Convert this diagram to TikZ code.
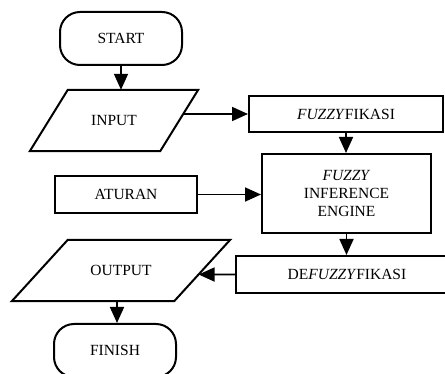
\documentclass[tikz,border=0pt]{standalone}
\usepackage{fontspec}
\setmainfont{Liberation Serif}
\usetikzlibrary{arrows.meta,calc}
\tikzset{
  txt/.style={inner sep=0pt, align=center, font=\fontsize{15.5}{18}\selectfont},
  box/.style={txt, draw, line width=2pt},
  term/.style={box, rounded corners=20pt, minimum width=122pt, minimum height=53pt},
  edge/.style={line width=2pt, line join=miter},
  arr/.style={line width=1.8pt, -{Triangle[length=16pt,width=14pt]}}
}
\begin{document}
\begin{tikzpicture}[x=1pt,y=-1pt]
\clip (0,0) rectangle (445,374);
% terminals
\node[term] (start) at (121,38.5) {START};
\node[term] (finish) at (115,350.5) {FINISH};
% input parallelogram
\node[txt, minimum width=130pt, minimum height=61pt] (input) at (114,120.5) {INPUT};
\coordinate (inTL) at ([xshift=19pt]input.north west);
\coordinate (inTR) at ([xshift=19pt]input.north east);
\coordinate (inBR) at ([xshift=-19pt]input.south east);
\coordinate (inBL) at ([xshift=-19pt]input.south west);
\draw[edge] (inTL) -- (inTR) -- (inBR) -- (inBL) -- cycle;
% output parallelogram
\node[txt, minimum width=162pt, minimum height=61pt] (output) at (121,270.5) {OUTPUT};
\coordinate (outTL) at ([xshift=28pt]output.north west);
\coordinate (outTR) at ([xshift=28pt]output.north east);
\coordinate (outBR) at ([xshift=-28pt]output.south east);
\coordinate (outBL) at ([xshift=-28pt]output.south west);
\draw[edge] (outTL) -- (outTR) -- (outBR) -- (outBL) -- cycle;
% process boxes
\node[box, minimum width=194pt, minimum height=36pt] (fuzz) at (346,114) {\textit{FUZZY}FIKASI};
\node[box, minimum width=169pt, minimum height=79pt] (fie) at (346.5,193.5) {\textit{FUZZY}\\INFERENCE\\ENGINE};
\node[box, minimum width=142pt, minimum height=37pt] (aturan) at (126,194.5) {ATURAN};
\node[box, minimum width=222pt, minimum height=37pt] (def) at (347,274.5) {DE\textit{FUZZY}FIKASI};
% connectors
\draw[arr] (start.south) -- (start.south |- input.north);
\draw[arr] (intersection of inTR--inBR and fuzz.west--fuzz.east) -- (fuzz.west);
\draw[arr] (fuzz.south) -- (fuzz.south |- fie.north);
\draw[arr] (aturan.east) -- (aturan.east -| fie.west);
\draw[arr] (fie.south) -- (fie.south |- def.north);
\draw[arr] (def.west) -- (intersection of outTR--outBR and def.west--def.east);
\draw[arr] ([xshift=2pt]finish.north |- output.south) -- ([xshift=2pt]finish.north);
\end{tikzpicture}
\end{document}
